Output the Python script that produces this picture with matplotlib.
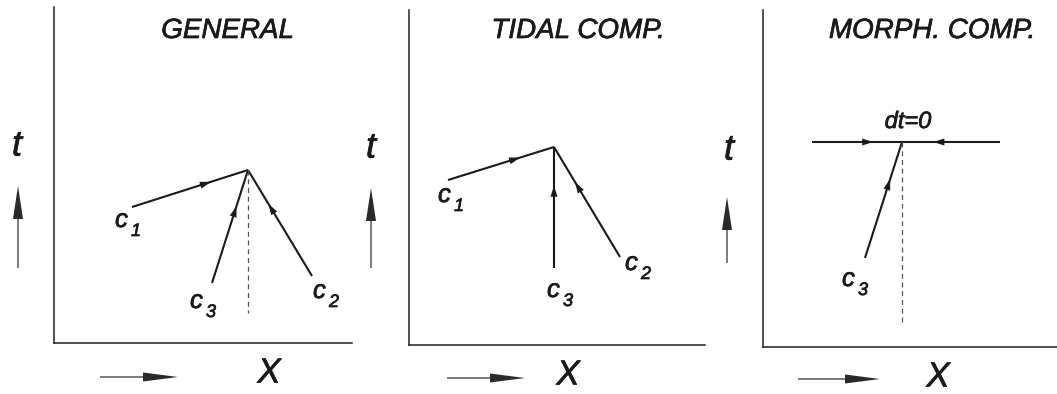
import numpy as np
import matplotlib
matplotlib.use("Agg")
import matplotlib.pyplot as plt
import matplotlib.patheffects as pe

# panel texts
titles = ["GENERAL", "TIDAL COMP.", "MORPH. COMP."]

# characteristic end points per panel, local pixel units (origin = axes corner)
apex = [(194, 173), (145, 198), (139, 205)]
c1_start = [(78, 136), (39, 165), (49, 205)]
c2_start = [(258, 67), (211, 88), (237, 205)]
c3_start = [(158, 60), (145, 77), (102, 89)]
dash_bottom = [30, None, 25]

# label anchors (left, baseline) for c_i, None = no label
c1_label = [(61, 116), (29, 143), None]
c2_label = [(259, 45), (216, 75), None]
c3_label = [(136, 35), (138, 48), (79, 61)]

# panel frames in figure pixels: x0, x1, y_bottom, y_top
frames = [(54, 352, 343, 7), (409, 705, 345, 10), (763, 1057, 347, 10)]
title_x = [173.5, 169, 169]
x_label_x = [215, 159, 175]
t_label_x = [-37, -38, -34]
up_arrow = [(-36, 75, 157), (-38, 77, 157), (-36, 84, 150)]  # x, y0, y1
right_arrow = [(46, 124, -34), (38, 116, -33), (35, 117, -32)]  # x0, x1, y

W, H = 1057, 394
fig = plt.figure(figsize=(W / 100, H / 100), dpi=100)
ink = "#1a1a1a"
font = "Liberation Sans"
thick = [pe.withStroke(linewidth=0.5, foreground=ink)]


def head(ax, p0, p1, frac=0.68, length=11, width=7):
    p0 = np.array(p0, float)
    p1 = np.array(p1, float)
    d = (p1 - p0) / np.linalg.norm(p1 - p0)
    tip = p0 + frac * (p1 - p0)
    tail = tip - d * length
    ax.arrow(tail[0], tail[1], *(d * length), width=0.01, head_width=width,
             head_length=length, length_includes_head=True, color=ink,
             lw=0, clip_on=False)


def label(ax, x, y, s, size):
    ax.text(x, y, s, ha="left", va="baseline", fontsize=size, style="italic",
            family=font, color=ink, path_effects=thick, clip_on=False)


for i, (x0, x1, yb, yt) in enumerate(frames):
    w, h = x1 - x0, yb - yt
    ax = fig.add_axes([x0 / W, (H - yb) / H, w / W, h / H])
    ax.set_xlim(0, w)
    ax.set_ylim(0, h)
    ax.set_xticks([])
    ax.set_yticks([])
    for s in ["top", "right"]:
        ax.spines[s].set_visible(False)
    for s in ["left", "bottom"]:
        ax.spines[s].set_linewidth(1.1)
        ax.spines[s].set_color("#222222")
    ax.patch.set_alpha(0)

    ax.text(title_x[i], yb - 31, titles[i], ha="center", va="center",
            fontsize=20, style="italic", family=font, color=ink,
            path_effects=thick)

    # characteristics
    for start in (c1_start[i], c2_start[i], c3_start[i]):
        ax.plot([start[0], apex[i][0]], [start[1], apex[i][1]], color=ink,
                lw=1.5, solid_capstyle="butt", clip_on=False)
        head(ax, start, apex[i])
    if dash_bottom[i] is not None:
        ax.plot([apex[i][0], apex[i][0]], [apex[i][1], dash_bottom[i]],
                color="#555555", lw=0.9, ls=(0, (4, 3)))
    if i == 2:
        ax.text(apex[i][0] + 6, apex[i][1] + 14, "dt=0", ha="center",
                va="baseline", fontsize=17, style="italic", family=font,
                color=ink, path_effects=thick)

    for lab, n in ((c1_label[i], "1"), (c2_label[i], "2"), (c3_label[i], "3")):
        if lab is None:
            continue
        label(ax, lab[0], lab[1], "c", 18.5)
        label(ax, lab[0] + 16, lab[1] - 9, n, 13)

    # outside axis symbols
    ax.text(t_label_x[i], 197, "t", ha="center", va="center", fontsize=26,
            style="italic", family=font, color=ink, clip_on=False,
            path_effects=thick)
    ux, uy0, uy1 = up_arrow[i]
    ax.arrow(ux, uy0, 0, uy1 - uy0, width=1.2, head_width=10, head_length=33,
             length_includes_head=True, color="#2a2a2a", lw=0, clip_on=False)
    rx0, rx1, ry = right_arrow[i]
    ax.arrow(rx0, ry, rx1 - rx0, 0, width=1.2, head_width=9, head_length=35,
             length_includes_head=True, color="#2a2a2a", lw=0, clip_on=False)
    ax.text(x_label_x[i], -30, "X", ha="center", va="center",
            fontsize=25, style="italic", family=font, color=ink,
            clip_on=False, path_effects=thick)

fig.savefig("out.png", dpi=100)
